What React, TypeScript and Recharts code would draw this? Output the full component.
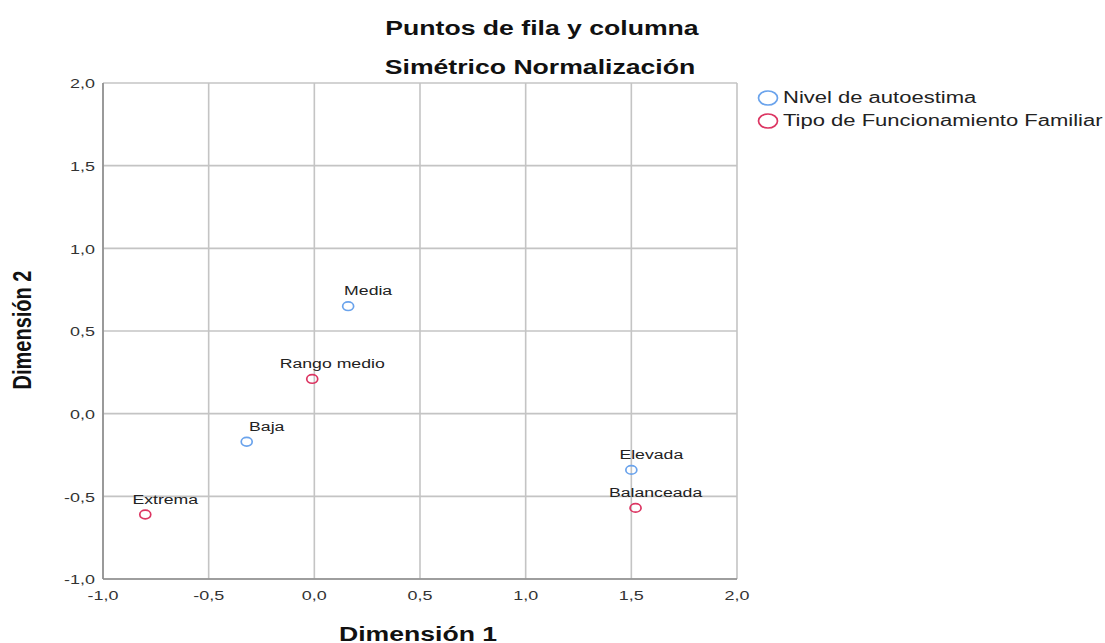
import React from 'react';
import { ScatterChart, Scatter, XAxis, YAxis, CartesianGrid, ZAxis } from 'recharts';

// Nivel de autoestima (row points)
const autoestimaNames = ['Media', 'Baja', 'Elevada'];
const autoestimaX = [0.16, -0.32, 1.5];
const autoestimaY = [0.65, -0.17, -0.34];

// Tipo de Funcionamiento Familiar (column points)
const familiarNames = ['Rango medio', 'Extrema', 'Balanceada'];
const familiarX = [-0.01, -0.8, 1.52];
const familiarY = [0.21, -0.61, -0.57];

const xTicks = [-1, -0.5, 0, 0.5, 1, 1.5, 2];
const yTicks = [-1, -0.5, 0, 0.5, 1, 1.5, 2];

const BLUE = '#6aa3ec';
const RED = '#dc3562';
// the reference is stretched sideways, so text is widened to match
const SX = 1.33;

const fmt = (v: number) => v.toFixed(1).replace('.', ',');

const build = (names: string[], xs: number[], ys: number[]) =>
  names.map((name, i) => ({ name, x: xs[i], y: ys[i] }));

const autoestimaData = build(autoestimaNames, autoestimaX, autoestimaY);
const familiarData = build(familiarNames, familiarX, familiarY);

const makeShape = (color: string) => (props: any) => {
  const { cx, cy, payload } = props;
  if (cx == null || cy == null) return null;
  return (
    <g>
      <ellipse cx={cx} cy={cy} rx={5.5} ry={4.3} fill="none" stroke={color} strokeWidth={1.7} />
      <text
        transform={`translate(${cx + 20},${cy - 15.5}) scale(${SX},1)`}
        textAnchor="middle"
        dy="0.35em"
        fontSize={13.3}
        fill="#222"
      >
        {payload.name}
      </text>
    </g>
  );
};

const XTick = (props: any) => {
  const { x, y, payload } = props;
  return (
    <text transform={`translate(${x},${y}) scale(${SX},1)`} textAnchor="middle" dy="0.71em" fontSize={13.5} fill="#333">
      {fmt(payload.value)}
    </text>
  );
};

const YTick = (props: any) => {
  const { x, y, payload } = props;
  return (
    <text transform={`translate(${x},${y}) scale(${SX},1)`} textAnchor="end" dy="0.4em" fontSize={13.5} fill="#333">
      {fmt(payload.value)}
    </text>
  );
};

const font = 'Arial, "Liberation Sans", sans-serif';

const titleStyle: React.CSSProperties = {
  position: 'absolute',
  left: 542,
  transform: `translate(-50%, -50%) scaleX(${SX})`,
  fontSize: 20,
  fontWeight: 'bold',
  color: '#111',
  whiteSpace: 'nowrap',
};

export default function App() {
  return (
    <div style={{ position: 'absolute', left: 0, top: 0, width: 1105, height: 643, fontFamily: font, overflow: 'hidden' }}>
      <div style={{ ...titleStyle, top: 28 }}>Puntos de fila y columna</div>
      <div style={{ ...titleStyle, left: 540, top: 67 }}>Simétrico Normalización</div>

      <ScatterChart
        width={1105}
        height={643}
        margin={{ top: 83, right: 368, bottom: 0, left: 0 }}
        style={{ fontFamily: font }}
      >
        <CartesianGrid stroke="#c4c4c4" strokeWidth={1.6} horizontalValues={yTicks} verticalValues={xTicks} />
        <XAxis
          type="number"
          dataKey="x"
          domain={[-1, 2]}
          ticks={xTicks}
          tick={<XTick />}
          height={64}
          axisLine={{ stroke: '#8c8c8c', strokeWidth: 1.6 }}
          tickLine={false}
          tickMargin={5}
          interval={0}
          allowDataOverflow
        />
        <YAxis
          type="number"
          dataKey="y"
          domain={[-1, 2]}
          ticks={yTicks}
          tick={<YTick />}
          width={103}
          axisLine={{ stroke: '#8c8c8c', strokeWidth: 1.6 }}
          tickLine={false}
          tickMargin={2}
          interval={0}
          allowDataOverflow
        />
        <ZAxis range={[60, 60]} />
        <Scatter name="Nivel de autoestima" data={autoestimaData} shape={makeShape(BLUE)} isAnimationActive={false} />
        <Scatter
          name="Tipo de Funcionamiento Familiar"
          data={familiarData}
          shape={makeShape(RED)}
          isAnimationActive={false}
        />
      </ScatterChart>

      {/* legend */}
      {[
        { label: 'Nivel de autoestima', color: BLUE, y: 98 },
        { label: 'Tipo de Funcionamiento Familiar', color: RED, y: 121 },
      ].map((item) => (
        <React.Fragment key={item.label}>
          <svg style={{ position: 'absolute', left: 756, top: item.y - 9 }} width={24} height={18}>
            <ellipse cx={12} cy={9} rx={9.5} ry={7} fill="none" stroke={item.color} strokeWidth={1.7} />
          </svg>
          <div
            style={{
              position: 'absolute',
              left: 783,
              top: item.y,
              transform: 'translateY(-50%) scaleX(1.375)',
              transformOrigin: 'left center',
              fontSize: 16,
              color: '#222',
              whiteSpace: 'nowrap',
            }}
          >
            {item.label}
          </div>
        </React.Fragment>
      ))}

      <div style={{ ...titleStyle, left: 418, top: 634 }}>Dimensión 1</div>
      <div
        style={{
          ...titleStyle,
          left: 22,
          top: 330,
          transform: `translate(-50%, -50%) scaleX(${SX}) rotate(-90deg)`,
        }}
      >
        Dimensión 2
      </div>
    </div>
  );
}
